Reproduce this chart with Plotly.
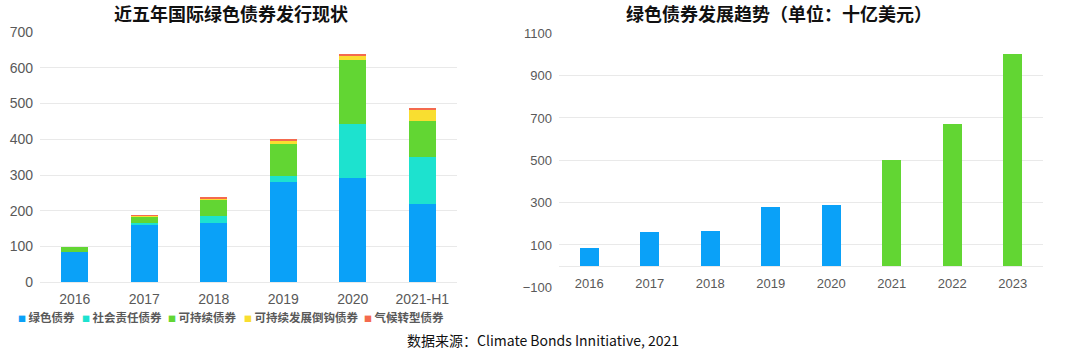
import plotly.graph_objects as go

# ---- Left chart data ----
years_left = ["2016", "2017", "2018", "2019", "2020", "2021-H1"]
green_bonds = [85, 160, 167, 280, 291, 220]
social_bonds = [0, 7, 18, 17, 151, 131]
sustainable_bonds = [15, 17, 47, 89, 179, 99]
sl_bonds = [0, 3, 3, 10, 12, 31]
transition_bonds = [0, 1, 2, 5, 5, 6]
series_names = ["绿色债券", "社会责任债券", "可持续债券", "可持续发展倒钩债券", "气候转型债券"]

# ---- Right chart data ----
years_actual = ["2016", "2017", "2018", "2019", "2020"]
values_actual = [86, 161, 166, 281, 291]
years_forecast = ["2021", "2022", "2023"]
values_forecast = [500, 670, 1000]
right_ticks = [-100, 100, 300, 500, 700, 900, 1100]

colors = ["#0AA1F8", "#1DE2CF", "#62D633", "#F9DE30", "#F46A4E"]
tick_color = "#595959"
grid_color = "#E9E9E9"
num_font = "Liberation Sans, Arial, sans-serif"
cjk_font = "Noto Sans CJK SC, sans-serif"

W, H = 1080, 353


def fx(px):
    return px / W


def fy(px):
    return 1 - px / H


fig = go.Figure()

left_series = [green_bonds, social_bonds, sustainable_bonds, sl_bonds, transition_bonds]
legend_ids = ["legend", "legend2", "legend3", "legend4", "legend5"]
for i, (name, vals, col) in enumerate(zip(series_names, left_series, colors)):
    fig.add_trace(go.Bar(
        x=years_left, y=vals, name=name, marker=dict(color=col, line=dict(width=0)),
        width=0.39, xaxis="x", yaxis="y", legendgroup=name, showlegend=False,
    ))
    # legend entry: small coloured square drawn inside the legend label
    label = '<span style="font-size:8px;color:%s">■</span> %s' % (col, name)
    fig.add_trace(go.Scatter(
        x=[None], y=[None], name=label, mode="markers", legendgroup=name,
        marker=dict(symbol="square", size=1, color="rgba(0,0,0,0)"),
        xaxis="x", yaxis="y", legend=legend_ids[i], showlegend=True,
    ))

fig.add_trace(go.Bar(x=years_actual, y=values_actual, marker=dict(color=colors[0], line=dict(width=0)),
                     width=0.314, xaxis="x2", yaxis="y2", showlegend=False))
fig.add_trace(go.Bar(x=years_forecast, y=values_forecast, marker=dict(color=colors[2], line=dict(width=0)),
                     width=0.314, xaxis="x2", yaxis="y2", showlegend=False))

legend_square_starts = [18, 82, 168, 244, 364]
legend_style = dict(font=dict(size=11.5, family=cjk_font, color=tick_color, weight="bold"),
                    itemwidth=30, bgcolor="rgba(0,0,0,0)", orientation="h",
                    yanchor="top", xanchor="left")
legend_layouts = {}
for lid, sx in zip(legend_ids, legend_square_starts):
    d = dict(legend_style)
    d.update(x=fx(sx - 40), y=fy(303))
    legend_layouts[lid] = d

fig.update_layout(
    width=W, height=H,
    margin=dict(l=0, r=0, t=0, b=0, autoexpand=False),
    paper_bgcolor="white", plot_bgcolor="white",
    barmode="stack",
    font=dict(family=num_font, color=tick_color, size=14),
    xaxis=dict(domain=[fx(40), fx(457)], anchor="y", type="category",
               categoryorder="array", categoryarray=years_left,
               showgrid=False, showline=False, ticks="outside", ticklen=4, tickcolor="rgba(0,0,0,0)",
               tickfont=dict(size=14, family=num_font, color=tick_color)),
    yaxis=dict(domain=[fy(282.3), fy(32)], range=[0, 700], dtick=100,
               showgrid=True, gridcolor=grid_color, gridwidth=1,
               zeroline=True, zerolinecolor=grid_color, zerolinewidth=1,
               ticklabelstandoff=6,
               tickfont=dict(size=14, family=num_font, color=tick_color)),
    xaxis2=dict(domain=[fx(559), fx(1043)], anchor="free", position=fy(265.7), type="category",
                categoryorder="array", categoryarray=years_actual + years_forecast,
                showgrid=False, showline=False, ticks="outside", ticklen=6, tickcolor="rgba(0,0,0,0)",
                tickfont=dict(size=13, family=num_font, color=tick_color)),
    yaxis2=dict(domain=[fy(287.3), fy(33.3)], range=[-100, 1100], tickvals=right_ticks,
                anchor="x2",
                showgrid=True, gridcolor=grid_color, gridwidth=1,
                zeroline=True, zerolinecolor=grid_color, zerolinewidth=1,
                ticklabelstandoff=6,
                tickfont=dict(size=13, family=num_font, color=tick_color)),
    annotations=[
        dict(text="<b>近五年国际绿色债券发行现状</b>", x=fx(231), y=fy(13), xref="paper", yref="paper",
             xanchor="center", yanchor="middle", showarrow=False,
             font=dict(size=18, family=cjk_font, color="#111111")),
        dict(text="<b>绿色债券发展趋势（单位：十亿美元）</b>", x=fx(779), y=fy(13), xref="paper", yref="paper",
             xanchor="center", yanchor="middle", showarrow=False,
             font=dict(size=18, family=cjk_font, color="#111111")),
        dict(text="数据来源：Climate Bonds Innitiative, 2021", x=fx(543), y=fy(340), xref="paper", yref="paper",
             xanchor="center", yanchor="middle", showarrow=False,
             font=dict(size=14, family=cjk_font, color="#111111")),
    ],
    **legend_layouts,
)

fig.write_html("out.html")
